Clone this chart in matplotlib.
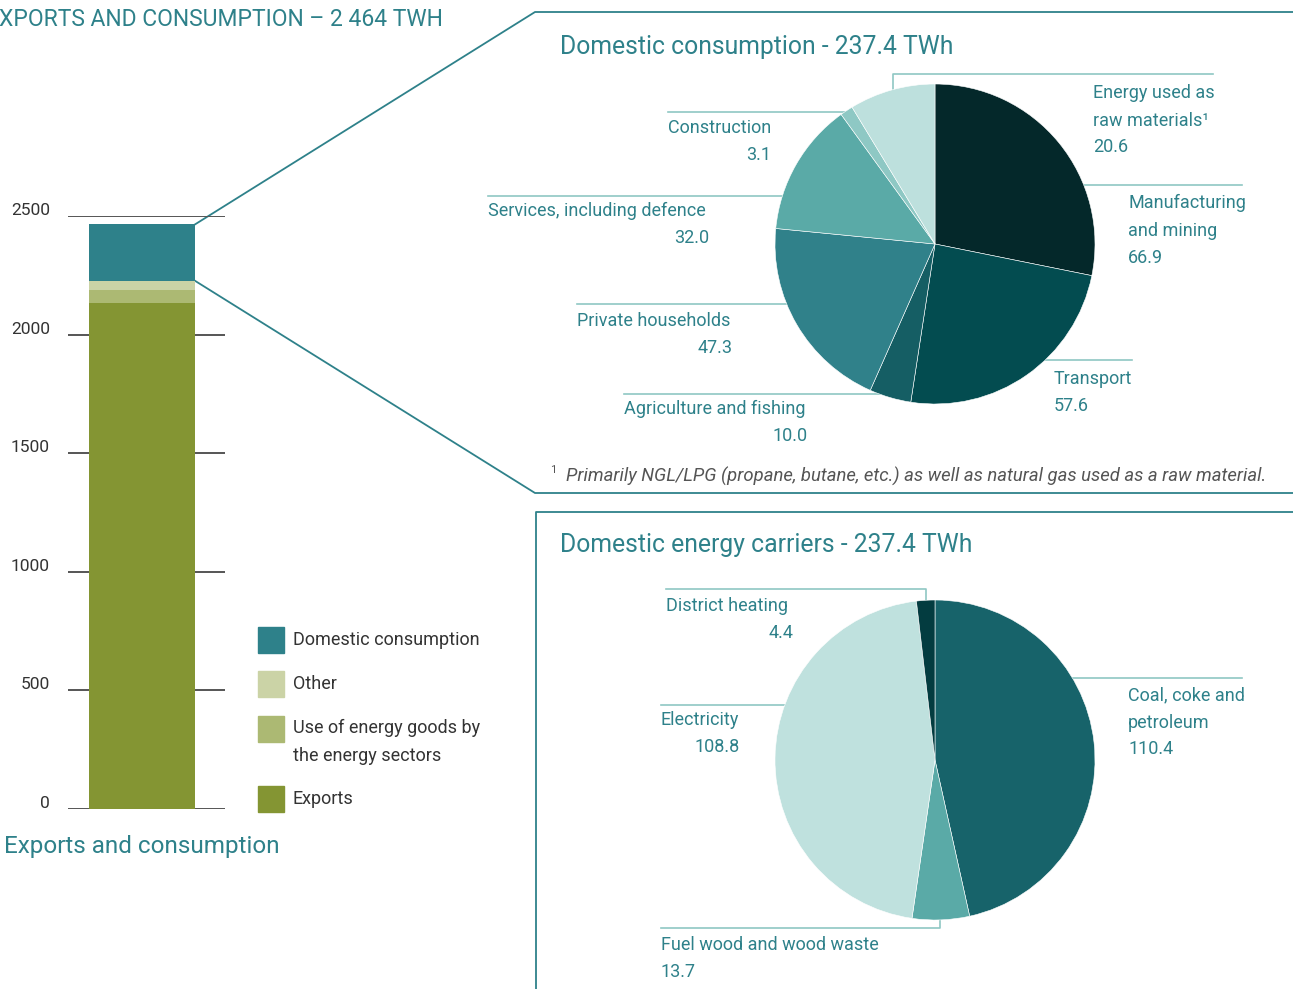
import numpy as np
import matplotlib
matplotlib.use("Agg")
import matplotlib.pyplot as plt
import matplotlib.transforms as mtransforms
from matplotlib.patches import Rectangle

plt.rcParams['font.family'] = ['Roboto', 'DejaVu Sans']

W, H = 1293, 989

# ---- data ----
bar_labels = ["Exports", "Use of energy goods by\nthe energy sectors", "Other", "Domestic consumption"]
bar_values = [2135, 55, 37, 237.4]
bar_colors = ["#849533", "#acb973", "#cbd3a6", "#2e818a"]
bar_ticks = [0, 500, 1000, 1500, 2000, 2500]

cons_labels = ["Manufacturing\nand mining", "Transport", "Agriculture and fishing",
               "Private households", "Services, including defence", "Construction",
               "Energy used as\nraw materials\u00b9"]
cons_values = [66.9, 57.6, 10.0, 47.3, 32.0, 3.1, 20.6]
cons_colors = ["#04282a", "#034c50", "#155e64", "#30818a", "#5aaaa7", "#8ec8c4", "#bde0dd"]

carr_labels = ["Coal, coke and\npetroleum", "Fuel wood and wood waste", "Electricity", "District heating"]
carr_values = [110.4, 13.7, 108.8, 4.4]
carr_colors = ["#17636a", "#5aaaa7", "#bfe1de", "#033c40"]

TEAL = "#2e818a"
LEAD = "#8fc7c3"
TXT = "#333333"

fig = plt.figure(figsize=(W / 100, H / 100), dpi=100)


def px_axes(left, top, w, h):
    return fig.add_axes([left / W, 1 - (top + h) / H, w / W, h / H])


# overlay for frames, leader lines and free text (pixel coordinates)
ov = fig.add_axes([0, 0, 1, 1])
ov.set_xlim(0, W)
ov.set_ylim(H, 0)
ov.axis('off')

# ---- stacked bar ----
axb = px_axes(68, 216, 157, 593)
axb.set_xlim(0, 1)
axb.set_ylim(0, 2500)
bar_x, bar_w = 0.471, 0.675
bottom = 0
for v, c in zip(bar_values, bar_colors):
    axb.bar(bar_x, v, width=bar_w, bottom=bottom, color=c, zorder=3)
    bottom += v
for t in bar_ticks:
    axb.axhline(t, color="#555555", lw=1.4, zorder=1)
axb.set_yticks(bar_ticks)
axb.set_yticklabels([str(t) for t in bar_ticks], fontsize=12.5, color=TXT)
axb.tick_params(axis='y', length=0, pad=13)
shift = mtransforms.ScaledTranslation(0, 5 / 72, fig.dpi_scale_trans)
for lbl in axb.get_yticklabels():
    lbl.set_transform(lbl.get_transform() + shift)
axb.set_xticks([])
for s in axb.spines.values():
    s.set_visible(False)
axb.patch.set_alpha(0)

# connect bar top / domestic segment bottom to the top panel
total = sum(bar_values)
x_r = bar_x + bar_w / 2
p_top = axb.transData.transform((x_r, total))
p_bot = axb.transData.transform((x_r, total - bar_values[-1]))
ov.plot([p_top[0], 535, W], [H - p_top[1], 12, 12], color=TEAL, lw=1.3)
ov.plot([p_bot[0], 535, W], [H - p_bot[1], 493, 493], color=TEAL, lw=1.3)
# bottom panel frame
ov.plot([536, 536, W], [H, 512, 512], color=TEAL, lw=1.3)

# titles
ov.text(-14, 19, "EXPORTS AND CONSUMPTION \u2013 2 464 TWH", fontsize=16.5, color=TEAL, va='center')
ov.text(4, 846, "Exports and consumption", fontsize=17.5, color=TEAL, va='center')
ov.text(560, 47, "Domestic consumption - 237.4 TWh", fontsize=17.8, color=TEAL, va='center')
ov.text(560, 545, "Domestic energy carriers - 237.4 TWh", fontsize=17.8, color=TEAL, va='center')

# legend
leg_y = [799, 729, 684, 640]
for lab, c, y in zip(bar_labels, bar_colors, leg_y):
    ov.add_patch(Rectangle((258, y - 13), 26, 26, color=c))
    if "\n" in lab:
        ov.text(293, y - 10, lab, fontsize=13, color=TXT, va='top', linespacing=1.72)
    else:
        ov.text(293, y, lab, fontsize=13, color=TXT, va='center')

# ---- pies ----
axp1 = px_axes(775, 84, 320, 320)
axp1.pie(cons_values, colors=cons_colors, startangle=90, counterclock=False,
         wedgeprops=dict(linewidth=0.4, edgecolor="#ffffff"))
axp1.set_xlim(-1, 1)
axp1.set_ylim(-1, 1)

axp2 = px_axes(775, 600, 320, 320)
axp2.pie(carr_values, colors=carr_colors, startangle=90, counterclock=False,
         wedgeprops=dict(linewidth=0.4, edgecolor="#ffffff"))
axp2.set_xlim(-1, 1)
axp2.set_ylim(-1, 1)

# leader lines (pixel layout)
leaders = [
    ([893, 893, 1213], [110, 74, 74]),
    ([1080, 1242], [185, 185]),
    ([1040, 1132], [360, 360]),
    ([624, 890], [394, 394]),
    ([577, 800], [304, 304]),
    ([488, 790], [196, 196]),
    ([668, 855], [112, 112]),
    ([666, 926, 926], [589, 589, 610]),
    ([661, 790], [705, 705]),
    ([1072, 1242], [678, 678]),
    ([661, 940, 940], [928, 928, 910]),
]
for xs, ys in leaders:
    ov.plot(xs, ys, color=LEAD, lw=1.2)

# label placements: (name x, name y, value x, value y, value ha)
cons_pos = [
    (1128, 203, 1128, 258, 'left'),
    (1054, 379, 1054, 406, 'left'),
    (624, 409, 808, 436, 'right'),
    (577, 321, 733, 348, 'right'),
    (488, 211, 709, 238, 'right'),
    (771, 128, 771, 155, 'right'),
    (1093, 93, 1093, 147, 'left'),
]
for lab, v, (nx, ny, vx, vy, ha) in zip(cons_labels, cons_values, cons_pos):
    nha = 'right' if lab == "Construction" else 'left'
    ov.text(nx, ny - 9, lab, fontsize=13, color=TEAL, ha=nha, va='top', linespacing=1.72)
    ov.text(vx, vy, f"{v:.1f}", fontsize=13, color=TEAL, ha=ha, va='center')

carr_pos = [
    (1128, 695, 1128, 749, 'left'),
    (661, 945, 661, 972, 'left'),
    (661, 720, 740, 747, 'right'),
    (666, 606, 794, 633, 'right'),
]
for lab, v, (nx, ny, vx, vy, ha) in zip(carr_labels, carr_values, carr_pos):
    ov.text(nx, ny - 9, lab, fontsize=13, color=TEAL, ha='left', va='top', linespacing=1.72)
    ov.text(vx, vy, f"{v:.1f}", fontsize=13, color=TEAL, ha=ha, va='center')

# footnote
ov.text(550, 470, "1", fontsize=8, color="#555555", va='center')
ov.text(566, 476, "Primarily NGL/LPG (propane, butane, etc.) as well as natural gas used as a raw material.",
        fontsize=13.3, color="#555555", style='italic', va='center')

fig.savefig("out.png", dpi=100)
